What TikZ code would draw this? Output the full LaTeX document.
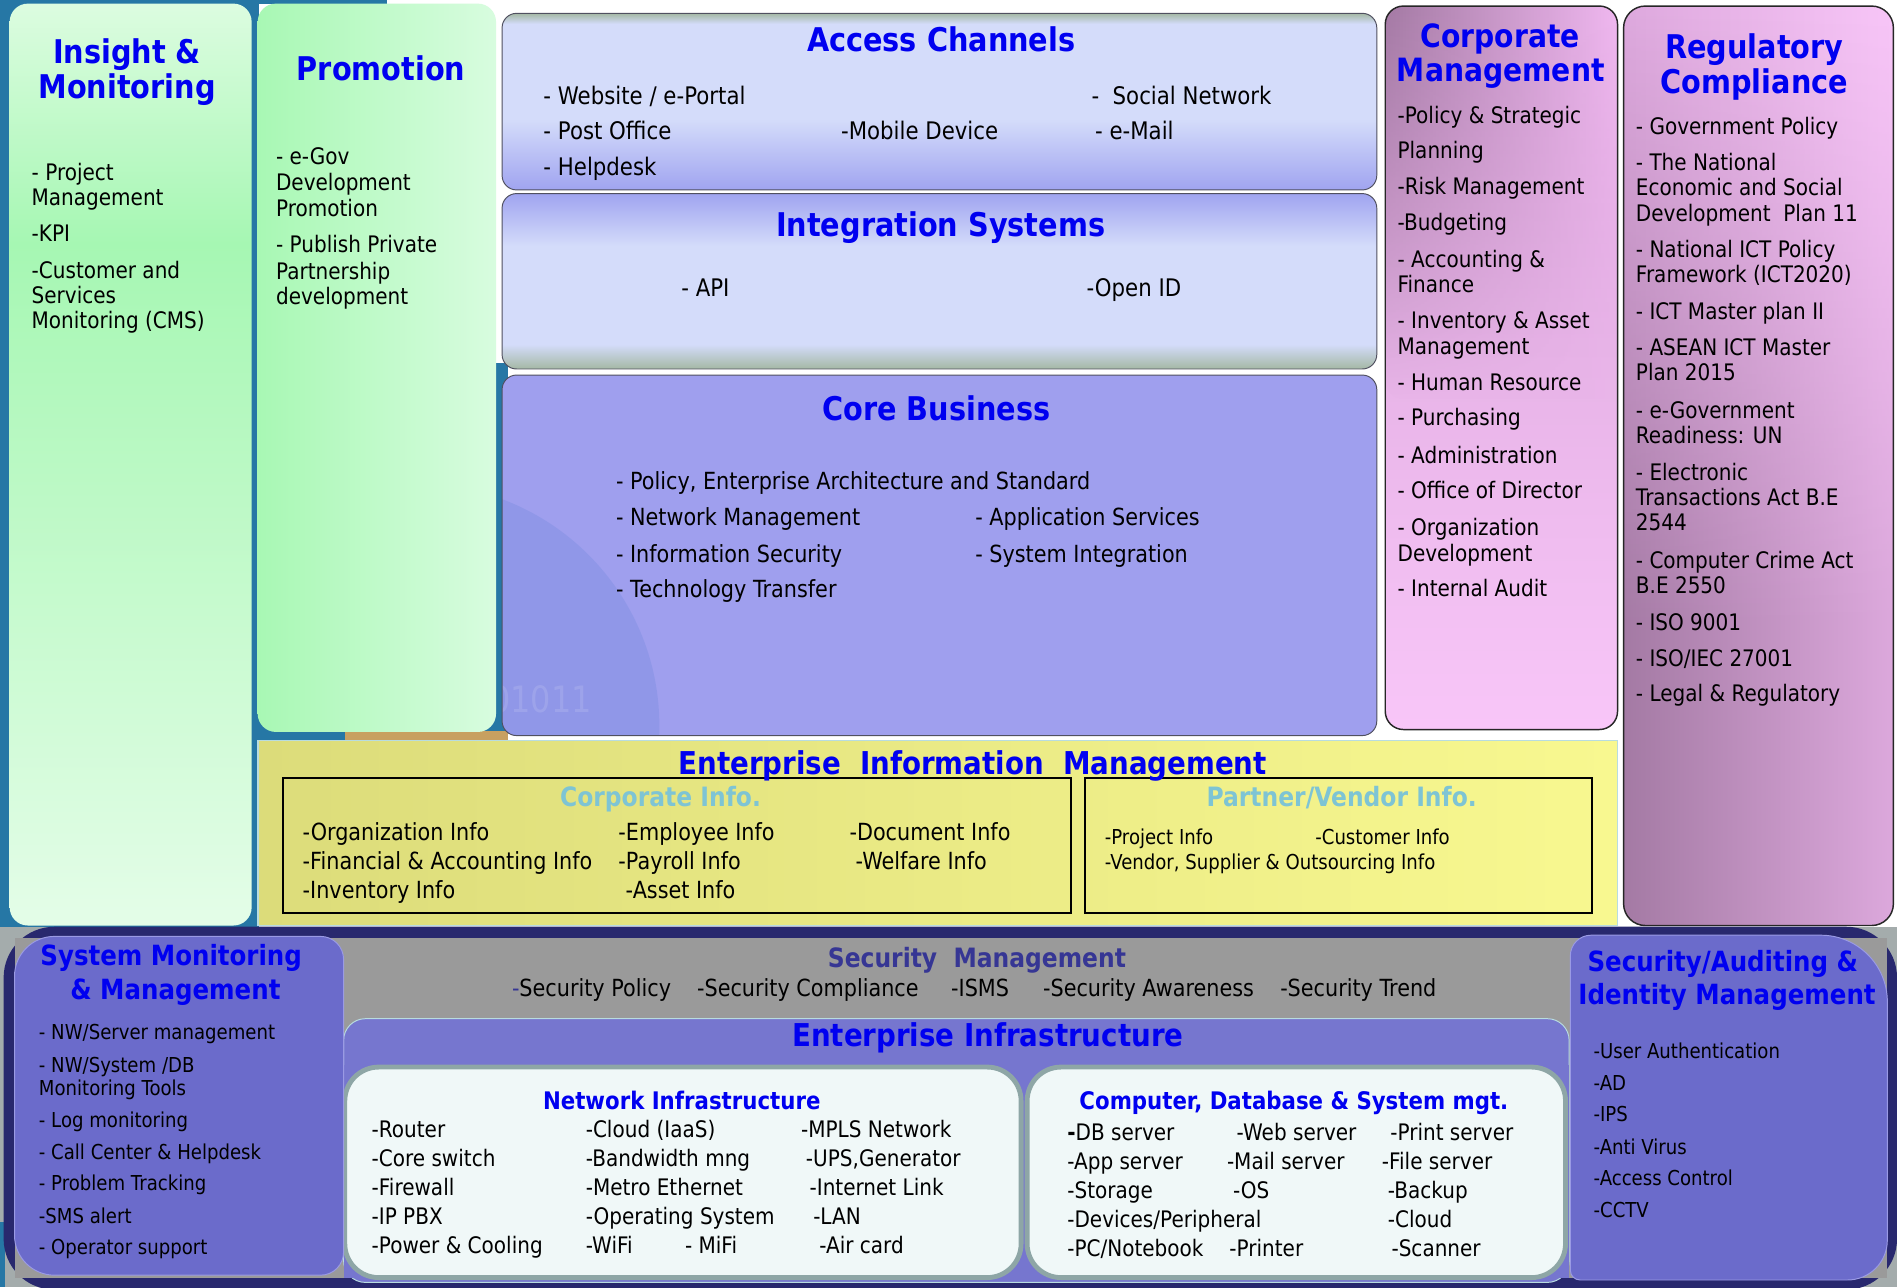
\documentclass[tikz,border=0pt]{standalone}
\usepackage{fontspec}
\setmainfont{DejaVu Sans}[FakeStretch=0.88]
\usetikzlibrary{fadings}
\definecolor{tblue}{RGB}{0,0,240}
\definecolor{bgblue}{HTML}{2677A5}
\definecolor{bgorange}{HTML}{C8A060}
\definecolor{insA}{HTML}{DCFCE0}
\definecolor{insB}{HTML}{A6F7B3}
\definecolor{insC}{HTML}{BDF9C6}
\definecolor{insD}{HTML}{E4FDE8}
\definecolor{promoL}{HTML}{A8F8B4}
\definecolor{promoR}{HTML}{D8FCDF}
\definecolor{lavL}{HTML}{D4DCFA}
\definecolor{lavD}{HTML}{A0A4F0}
\definecolor{sage}{HTML}{A4B8A4}
\definecolor{corefill}{HTML}{9F9FEE}
\definecolor{globe}{HTML}{7F8FE2}
\definecolor{boxline}{HTML}{505060}
\definecolor{mauve}{HTML}{A47AA4}
\definecolor{mauveM}{HTML}{D8A2D8}
\definecolor{pinkL}{HTML}{F8C6F8}
\definecolor{pinkM}{HTML}{F0B8F0}
\definecolor{pinkR}{HTML}{DCA8DC}
\definecolor{yelL}{HTML}{DCDC7A}
\definecolor{yelR}{HTML}{F8F890}
\definecolor{yelline}{HTML}{B8DCE0}
\definecolor{teal}{HTML}{7EC4D4}
\definecolor{navy}{HTML}{28286E}
\definecolor{greyM}{HTML}{9A9A9A}
\definecolor{greyO}{HTML}{A4ACAC}
\definecolor{sysfill}{HTML}{6B6BCB}
\definecolor{sysline}{HTML}{9A9AE4}
\definecolor{infill}{HTML}{7676CF}
\definecolor{whitebox}{HTML}{F0F8F8}
\definecolor{wbline}{HTML}{8EA6A6}
\definecolor{secblue}{HTML}{363694}
\pgfdeclareverticalshading{insightsh}{100bp}{color(0bp)=(insD); color(25bp)=(insD); color(48bp)=(insC); color(62bp)=(insB); color(75bp)=(insA); color(100bp)=(insA)}
\pgfdeclareverticalshading{accsh}{100bp}{color(0bp)=(lavD); color(25bp)=(lavD); color(45bp)=(lavL); color(72bp)=(lavL); color(75bp)=(sage); color(100bp)=(sage)}
\pgfdeclareverticalshading{intsh}{100bp}{color(0bp)=(sage); color(25bp)=(sage); color(32bp)=(lavL); color(60bp)=(lavL); color(75bp)=(lavD); color(100bp)=(lavD)}
\tikzfading[name=fadedown, top color=transparent!0, bottom color=transparent!100]
\newcommand\itemcol[5]{\foreach \yy/\itm [count=\ci] in {#5} {\node[#2] (#1\ci) at (#3,\yy+#4) {\itm};}}
\begin{document}
\begin{tikzpicture}[x=1pt,y=-1pt,
  ttl/.style={anchor=base, inner sep=0pt, text=tblue, font=\bfseries\fontsize{27}{30}\selectfont},
  ttlm/.style={ttl, font=\bfseries\fontsize{23}{26}\selectfont},
  ttls/.style={ttl, font=\bfseries\fontsize{20}{22}\selectfont},
  txt/.style={anchor=base west, inner sep=0pt, text=black, font=\fontsize{18.8}{21}\selectfont},
  txtl/.style={txt, font=\fontsize{20}{22}\selectfont},
  txtm/.style={txt, font=\fontsize{19.5}{22}\selectfont},
  txts/.style={txt, font=\fontsize{17}{19}\selectfont},
  boxtop/.style={draw=boxline, line width=0.8pt, rounded corners=12pt}]
\useasboundingbox (0,0) rectangle (1568,1064);
% ---------- background
\fill[white] (0,0) rectangle (1568,1064);
\fill[bgblue] (0,0) rectangle (214,770);
\fill[bgblue] (0,0) rectangle (320,3);
\fill[bgblue] (205,300) rectangle (420,612);
\fill[bgorange] (285,604) rectangle (420,612);
% ---------- Insight & Monitoring
\shade[shading=insightsh, rounded corners=15pt] (8,3) rectangle (208,765);
\node[ttl] (insT1) at (105,52.7) {Insight \&};
\node[ttl] (insT2) at (105,81.7) {Monitoring};
\itemcol{ins}{txt}{26}{6.8}{142/{- Project},163/Management,193/-KPI,223/{-Customer and},244/Services,265/{Monitoring (CMS)}}
% ---------- Promotion
\shade[left color=promoL, right color=promoR, rounded corners=15pt] (213,3) rectangle (410,605);
\node[ttl] (proT) at (315,66.7) {Promotion};
\itemcol{pro}{txt}{228}{6.8}{129/{- e-Gov},151/Development,172/Promotion,202/{- Publish Private},224/Partnership,245/development}
% ---------- Access Channels
\shadedraw[shading=accsh, boxtop] (415,11) rectangle (1138,157);
\node[ttl] (accT) at (778,42.7) {Access Channels};
\itemcol{accA}{txtl}{449}{7.2}{79/{- Website / e-Portal},108/{- Post Office},138/{- Helpdesk}}
\node[txtl] (accB) at (695,115.2) {-Mobile Device};
\node[txtl] (accC) at (902,86.2) {-\ \ Social Network};
\node[txtl] (accD) at (905,115.2) {- e-Mail};
% ---------- Integration Systems
\shadedraw[shading=intsh, boxtop] (415,160) rectangle (1138,305);
\node[ttl] (intT) at (777.5,195.7) {Integration Systems};
\node[txtl] (intA) at (563,245.2) {- API};
\node[txtl] (intB) at (898,245.2) {-Open ID};
% ---------- Core Business
\fill[corefill, rounded corners=12pt] (415,310) rectangle (1138,608);
\begin{scope}
  \clip[rounded corners=12pt] (415,310) rectangle (1138,608);
  \fill[globe, opacity=0.45] (345,600) circle[radius=200pt];
  \node[anchor=base west, inner sep=0pt, text=white, opacity=0.12, font=\fontsize{30}{32}\selectfont] (bits) at (405,589) {01011};
\end{scope}
\draw[boxtop] (415,310) rectangle (1138,608);
\node[ttl] (coreT) at (774,347.7) {Core Business};
\itemcol{coreA}{txtm}{509}{7}{398/{- Policy, Enterprise Architecture and Standard},427/{- Network Management},458/{- Information Security},487/{- Technology Transfer}}
\itemcol{coreB}{txtm}{806}{7}{427/{- Application Services},458/{- System Integration}}
% ---------- Corporate Management
\shade[top color=mauveM, bottom color=pinkL, rounded corners=15pt] (1145,5) rectangle (1337,603);
\shade[left color=mauve, right color=pinkM, rounded corners=15pt, path fading=fadedown] (1145,5) rectangle (1337,330);
\draw[draw=black!85, line width=1.2pt, rounded corners=15pt] (1145,5) rectangle (1337,603);
\node[ttl, font=\bfseries\fontsize{26.5}{30}\selectfont] (corT1) at (1240,39.5) {Corporate};
\node[ttl, font=\bfseries\fontsize{26.5}{30}\selectfont] (corT2) at (1240.5,67.5) {Management};
\itemcol{cor}{txt}{1155}{6.8}{95/{-Policy \& Strategic},124/Planning,154/{-Risk Management},184/-Budgeting,214/{- Accounting \&},235/Finance,265/{- Inventory \& Asset},286/Management,316/{- Human Resource},345/{- Purchasing},376/{- Administration},405/{- Office of Director},436/{- Organization},457/Development,486/{- Internal Audit}}
% ---------- Regulatory Compliance
\shade[left color=mauve, right color=pinkR, rounded corners=18pt] (1342,5) rectangle (1565,765);
\shade[left color=mauveM!80!pinkL, right color=pinkL, rounded corners=18pt, path fading=fadedown] (1342,5) rectangle (1565,520);
\draw[draw=black!85, line width=1.2pt, rounded corners=18pt] (1342,5) rectangle (1565,765);
\node[ttl] (regT1) at (1450,48.7) {Regulatory};
\node[ttl] (regT2) at (1450,77.7) {Compliance};
\itemcol{reg}{txt}{1352}{6.8}{104/{- Government Policy},134/{- The National},155/{Economic and Social},176/{Development\ \ Plan 11},206/{- National ICT Policy},227/{Framework (ICT2020)},257/{- ICT Master plan II},287/{- ASEAN ICT Master},308/{Plan 2015},339/{- e-Government},360/{Readiness: UN},390/{- Electronic},411/{Transactions Act B.E},432/2544,463/{- Computer Crime Act},484/{B.E 2550},514/{- ISO 9001},544/{- ISO/IEC 27001},573/{- Legal \& Regulatory}}
% ---------- Enterprise Information Management
\shadedraw[left color=yelL, right color=yelR, draw=yelline, line width=1.5pt] (213,612) rectangle (1337,765);
\draw[black, line width=1.6pt] (234,643) rectangle (885,755);
\draw[black, line width=1.6pt] (897,643) rectangle (1316,755);
\node[ttl, font=\bfseries\fontsize{26}{30}\selectfont] (eimT) at (804,640.4) {Enterprise\ \ Information\ \ Management};
\node[ttl, text=teal, font=\bfseries\fontsize{22}{26}\selectfont] (ciT) at (546,667) {Corporate Info.};
\node[ttl, text=teal, font=\bfseries\fontsize{22}{26}\selectfont] (pvT) at (1109,667) {Partner/Vendor Info.};
\itemcol{ciA}{txtm}{250}{7}{688/{-Organization Info},712/{-Financial \& Accounting Info},736/{-Inventory Info}}
\itemcol{ciB}{txtm}{511}{7}{688/{-Employee Info},712/{-Payroll Info}}
\node[txtm] (ciC) at (517,743) {-Asset Info};
\node[txtm] (ciD) at (702,695) {-Document Info};
\node[txtm] (ciE) at (707,719) {-Welfare Info};
\node[txts] (pvA) at (913,698.1) {-Project Info};
\node[txts] (pvB) at (1087,698.1) {-Customer Info};
\node[txts] (pvC) at (913,719.1) {-Vendor, Supplier \& Outsourcing Info};
% ---------- bottom section
\fill[greyO] (0,766) rectangle (1568,1064);
\fill[bgblue] (0,1010) rectangle (4,1064);
\fill[navy, rounded corners=42pt] (3,766) rectangle (1568,1066);
\fill[greyM] (12,775) rectangle (1560,1056);
% Enterprise infrastructure band
\draw[fill=infill, draw=yelline, line width=0.8pt, rounded corners=18pt] (284,842) rectangle (1297,1060);
\fill[infill] (284,880) rectangle (1297,1056);
\draw[fill=whitebox, draw=wbline, line width=4pt, rounded corners=28pt] (285,882) rectangle (844,1056);
\draw[fill=whitebox, draw=wbline, line width=4pt, rounded corners=28pt] (849,882) rectangle (1294,1056);
% System monitoring box
\path[fill=sysfill, draw=sysline, line width=0.8pt] (12,1054) [rounded corners=33pt] -- (12,774) [rounded corners=19pt] -- (284,774) [rounded corners=19pt] -- (284,1054) [rounded corners=33pt] -- cycle;
% Security auditing box
\path[fill=sysfill, draw=sysline, line width=0.8pt] (1298,1058) [rounded corners=17pt] -- (1298,773) [rounded corners=55pt] -- (1560,773) [rounded corners=33pt] -- (1560,1058) [rounded corners=8pt] -- cycle;
% texts
\node[ttlm] (smT1) at (141.5,798.3) {System Monitoring};
\node[ttlm] (smT2) at (145,826.3) {\& Management};
\itemcol{sm}{txts}{32}{6.1}{853/{- NW/Server management},880/{- NW/System /DB},899/{Monitoring Tools},926/{- Log monitoring},952/{- Call Center \& Helpdesk},978/{- Problem Tracking},1005/{-SMS alert},1031/{- Operator support}}
\node[ttl, text=secblue, font=\bfseries\fontsize{22}{26}\selectfont] (secT) at (807.5,800) {Security\ \ Management};
\node[txtm] (secA) at (423,824) {\textcolor{secblue}{-}Security Policy};
\node[txtm] (secB) at (576,824) {-Security Compliance};
\node[txtm] (secC) at (786,824) {-ISMS};
\node[txtm] (secD) at (862,824) {-Security Awareness};
\node[txtm] (secE) at (1058,824) {-Security Trend};
\node[ttl, font=\bfseries\fontsize{26}{30}\selectfont] (eiT) at (816.5,865.4) {Enterprise Infrastructure};
\node[ttls] (niT) at (563.5,917.2) {Network Infrastructure};
\itemcol{niA}{txt}{307}{6.8}{933/-Router,957/{-Core switch},981/-Firewall,1005/{-IP PBX},1029/{-Power \& Cooling}}
\itemcol{niB}{txt}{484}{6.8}{933/{-Cloud (IaaS)},957/{-Bandwidth mng},981/{-Metro Ethernet},1005/{-Operating System},1029/-WiFi}
\node[txt] (niC) at (566,1035.8) {- MiFi};
\node[txt] (niD1) at (662,939.8) {-MPLS Network};
\node[txt] (niD2) at (666,963.8) {-UPS,Generator};
\node[txt] (niD3) at (669,987.8) {-Internet Link};
\node[txt] (niD4) at (672,1011.8) {-LAN};
\node[txt] (niD5) at (677,1035.8) {-Air card};
\node[ttls] (cdT) at (1069.5,917.2) {Computer, Database \& System mgt.};
\itemcol{cdA}{txt}{882}{6.8}{936/{\textbf{-}DB server},960/{-App server},984/-Storage,1008/{-Devices/Peripheral},1032/{-PC/Notebook}}
\node[txt] (cdB1) at (1022,942.8) {-Web server};
\node[txt] (cdB2) at (1014,966.8) {-Mail server};
\node[txt] (cdB3) at (1019,990.8) {-OS};
\node[txt] (cdB4) at (1016,1038.8) {-Printer};
\node[txt] (cdC1) at (1149,942.8) {-Print server};
\node[txt] (cdC2) at (1142,966.8) {-File server};
\node[txt] (cdC3) at (1147,990.8) {-Backup};
\node[txt] (cdC4) at (1147,1014.8) {-Cloud};
\node[txt] (cdC5) at (1150,1038.8) {-Scanner};
\node[ttlm] (saT1) at (1424,803.3) {Security/Auditing \&};
\node[ttlm] (saT2) at (1427.5,830.3) {Identity Management};
\itemcol{sa}{txts}{1317}{6.1}{869/{-User Authentication},895/-AD,921/-IPS,948/{-Anti Virus},974/{-Access Control},1000/-CCTV}
\end{tikzpicture}
\end{document}
